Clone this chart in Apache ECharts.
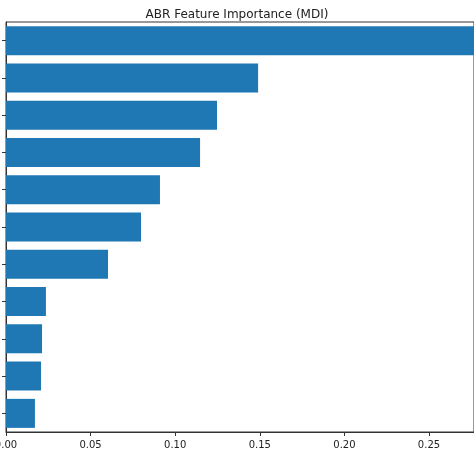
<!DOCTYPE html><html><head><meta charset="utf-8"><script src="https://cdn.jsdelivr.net/npm/echarts@6/dist/echarts.min.js"></script></head><body style="margin:0"><div id="c" style="width:474px;height:474px"></div><script>
const categories=['f1','f2','f3','f4','f5','f6','f7','f8','f9','f10','f11'];
const values=[0.29,0.149,0.1247,0.1147,0.091,0.0798,0.0603,0.0236,0.0213,0.0207,0.0171];
const ch=echarts.init(document.getElementById('c'));
ch.setOption({animation:false,
title:{text:'ABR Feature Importance (MDI)',left:'center',top:4,textStyle:{fontSize:12,fontWeight:'normal',color:'#222',fontFamily:'DejaVu Sans'}},
grid:{left:6,right:0,top:22,bottom:42,containLabel:false,outerBoundsMode:'none',show:true,borderColor:'#333',borderWidth:1},
xAxis:{type:'value',min:0,max:468/1692,interval:0.05,splitLine:{show:false},axisLine:{show:true,lineStyle:{color:'#333'}},axisTick:{show:true,length:4,lineStyle:{color:'#333'}},
axisLabel:{showMaxLabel:false,color:'#222',fontSize:10,fontFamily:'DejaVu Sans',formatter:v=>v.toFixed(2)}},
yAxis:{type:'category',inverse:true,data:categories,axisLine:{show:true,lineStyle:{color:'#333'}},axisTick:{show:true,alignWithLabel:true,length:4,lineStyle:{color:'#333'}},axisLabel:{show:false}},
series:[{type:'bar',barWidth:29,clip:true,itemStyle:{color:'#1f77b4'},data:values}]
});
</script></body></html>
